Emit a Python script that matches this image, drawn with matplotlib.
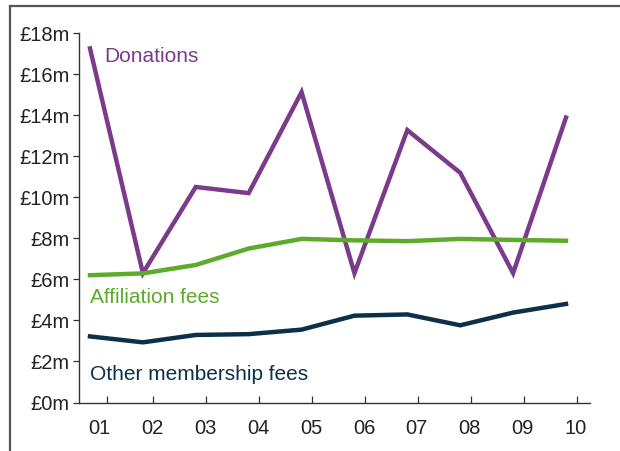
import matplotlib
matplotlib.use("Agg")
import matplotlib.pyplot as plt
from matplotlib.lines import Line2D
import numpy as np

years = ["01", "02", "03", "04", "05", "06", "07", "08", "09", "10"]
donations = [17.25, 6.3, 10.5, 10.2, 15.12, 6.3, 13.27, 11.19, 6.3, 13.88]
affiliation = [6.2, 6.29, 6.7, 7.5, 7.97, 7.9, 7.86, 7.97, 7.92, 7.88]
other_membership = [3.22, 2.93, 3.29, 3.33, 3.55, 4.23, 4.29, 3.76, 4.38, 4.8]
y_ticks = [0, 2, 4, 6, 8, 10, 12, 14, 16, 18]
y_labels = ["£%dm" % v for v in y_ticks]

c_don = "#7b3a8b"
c_aff = "#5dab2b"
c_oth = "#0c3049"
axis_col = "#333333"

plt.rcParams["font.family"] = ["Liberation Sans", "DejaVu Sans"]

fig = plt.figure(figsize=(6.2, 4.51), dpi=100)
W, H = 620, 451
ax = fig.add_axes([79 / W, (H - 402.5) / H, (590 - 79) / W, (402.5 - 33) / H])

x = np.arange(len(years))
ax.plot(x, donations, color=c_don, lw=3.2, solid_joinstyle="miter")
ax.plot(x, affiliation, color=c_aff, lw=3.2, solid_joinstyle="miter")
ax.plot(x, other_membership, color=c_oth, lw=3.2, solid_joinstyle="miter")

ax.set_xlim(-0.208, 9.454)
ax.set_ylim(0, 18)

for s in ["top", "right"]:
    ax.spines[s].set_visible(False)
for s in ["left", "bottom"]:
    ax.spines[s].set_color(axis_col)
    ax.spines[s].set_linewidth(1.0)

ax.set_yticks(y_ticks)
ax.set_yticklabels(y_labels, fontsize=14.5, color="#222222")
ax.tick_params(axis="y", direction="out", length=4, width=0.9, color=axis_col, pad=3)

# labels (major, no marks) and tick marks (minor)
label_pos = x + 0.18
mark_pos = x + 0.2
mark_pos = mark_pos.copy()
mark_pos[0] = 0.32
ax.set_xticks(label_pos)
ax.set_xticklabels(years, fontsize=14.5, color="#222222")
ax.tick_params(axis="x", which="major", length=0, pad=12)
ax.set_xticks(mark_pos, minor=True)
ax.tick_params(axis="x", which="minor", direction="in", length=5, width=0.9, color=axis_col)

ax.text(0.26, 16.85, "Donations", color=c_don, fontsize=15, va="center", ha="left")
ax.text(0.0, 5.1, "Affiliation fees", color=c_aff, fontsize=15, va="center", ha="left")
ax.text(0.0, 1.38, "Other membership fees", color=c_oth, fontsize=15, va="center", ha="left")

# outer frame lines
fig.add_artist(Line2D([9.5 / W, 1.0], [(H - 5.5) / H, (H - 5.5) / H], color="#555555", lw=1.6))
fig.add_artist(Line2D([9.5 / W, 9.5 / W], [0, (H - 5.5) / H], color="#555555", lw=1.6))

fig.savefig("out.png", dpi=100)
